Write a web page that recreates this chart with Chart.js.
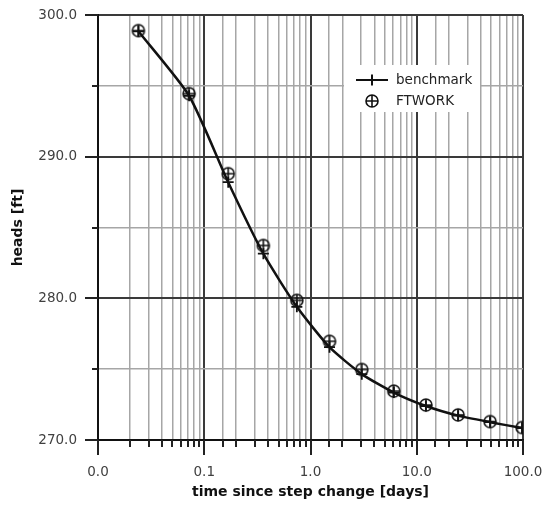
<!DOCTYPE html>
<html>
<head>
<meta charset="utf-8">
<script src="https://cdn.jsdelivr.net/npm/chart.js@4/dist/chart.umd.min.js"></script>
<style>
  html, body { margin: 0; padding: 0; background: #fff; }
  #wrap { width: 544px; height: 506px; }
</style>
</head>
<body>
<div id="wrap"><canvas id="myChart" width="544" height="506"></canvas></div>
<script>
// time since step change [days] and heads [ft]
const timeDays = [0.024, 0.072, 0.168, 0.36, 0.744, 1.51, 3.04, 6.08, 12.2, 24.5, 49, 98];
const benchmarkHeads = [298.85, 294.3, 288.2, 283.15, 279.4, 276.55, 274.65, 273.35, 272.4, 271.72, 271.26, 270.84];
const ftworkHeads = [298.9, 294.45, 288.8, 283.73, 279.86, 276.97, 274.98, 273.45, 272.47, 271.77, 271.3, 270.88];

const X_MIN = 0.01, X_MAX = 100;
const Y_MIN = 270, Y_MAX = 300, Y_STEP = 5;

const FONT = 'DejaVu Sans, Verdana, sans-serif';

const isDecade = v => Math.abs(Math.log10(v) - Math.round(Math.log10(v))) < 1e-6;
const isTen = v => Math.abs(v % 10) < 1e-6;

// circle with a plus inside, used for the FTWORK points
function makeCirclePlus(r) {
  const c = document.createElement('canvas');
  const s = Math.ceil(r * 2 + 4);
  c.width = s; c.height = s;
  const g = c.getContext('2d');
  const m = s / 2;
  g.strokeStyle = '#111';
  g.lineWidth = 1.6;
  g.beginPath();
  g.arc(m, m, r, 0, Math.PI * 2);
  g.moveTo(m - r, m); g.lineTo(m + r, m);
  g.moveTo(m, m - r); g.lineTo(m, m + r);
  g.stroke();
  return c;
}
const circlePlus = makeCirclePlus(6);

const pts = (xs, ys) => xs.map((x, i) => ({ x: x, y: ys[i] }));

// tick marks outside the plot: long at labelled values, short otherwise
const tickMarks = {
  id: 'tickMarks',
  afterDraw(chart) {
    const ctx = chart.ctx;
    const xs = chart.scales.x, ys = chart.scales.y;
    const area = chart.chartArea;
    ctx.save();
    ctx.strokeStyle = '#222';
    ctx.lineWidth = 2;
    ctx.beginPath();
    xs.ticks.forEach(t => {
      const px = Math.round(xs.getPixelForValue(t.value));
      const len = isDecade(t.value) ? 15 : 7;
      ctx.moveTo(px, area.bottom);
      ctx.lineTo(px, area.bottom + len);
    });
    ys.ticks.forEach(t => {
      const py = Math.round(ys.getPixelForValue(t.value));
      const len = isTen(t.value) ? 13 : 6;
      ctx.moveTo(area.left, py);
      ctx.lineTo(area.left - len, py);
    });
    ctx.stroke();
    ctx.restore();
  }
};

// legend box inside the plot
const boxLegend = {
  id: 'boxLegend',
  afterDatasetsDraw(chart) {
    const ctx = chart.ctx;
    const bx = 344, by = 65, bw = 136, bh = 47;
    ctx.save();
    ctx.fillStyle = '#fff';
    ctx.fillRect(bx, by, bw, bh);
    ctx.strokeStyle = '#111';
    ctx.lineWidth = 2;
    ctx.beginPath();
    ctx.moveTo(356, 80); ctx.lineTo(388, 80);
    ctx.moveTo(372, 74.5); ctx.lineTo(372, 85.5);
    ctx.stroke();
    ctx.drawImage(circlePlus, 372 - circlePlus.width / 2, 101 - circlePlus.height / 2);
    ctx.fillStyle = '#222';
    ctx.font = '13.5px ' + FONT;
    ctx.textBaseline = 'middle';
    ctx.textAlign = 'left';
    ctx.fillText(chart.data.datasets[0].label, 396, 80);
    ctx.fillText(chart.data.datasets[1].label, 396, 101);
    ctx.restore();
  }
};

const ctx = document.getElementById('myChart').getContext('2d');

const myChart = new Chart(ctx, {
  type: 'line',
  data: {
    datasets: [{
      label: 'benchmark',
      data: pts(timeDays, benchmarkHeads),
      borderColor: '#111',
      backgroundColor: '#111',
      borderWidth: 2.5,
      pointStyle: 'cross',
      pointRadius: 5.5,
      pointBorderWidth: 1.8,
      tension: 0.2,
      order: 2
    }, {
      label: 'FTWORK',
      data: pts(timeDays, ftworkHeads),
      showLine: false,
      pointStyle: circlePlus,
      pointRadius: 6,
      order: 1
    }]
  },
  options: {
    responsive: false,
    animation: false,
    events: [],
    layout: { padding: { top: 15, right: 21, left: 0, bottom: 0 } },
    plugins: {
      legend: { display: false },
      tooltip: { enabled: false }
    },
    scales: {
      x: {
        type: 'logarithmic',
        min: X_MIN,
        max: X_MAX,
        afterFit(scale) {
          scale.height = 66;
          scale.paddingLeft = 0; scale.paddingRight = 0;
        },
        border: { color: '#111', width: 2 },
        grid: {
          drawTicks: false,
          lineWidth: ctx => isDecade(ctx.tick.value) ? 2 : 1.5,
          color: ctx => isDecade(ctx.tick.value) ? '#3a3a3a' : '#a6a6a6'
        },
        ticks: {
          autoSkip: false,
          maxRotation: 0,
          padding: 24,
          color: '#404040',
          font: { family: FONT, size: 13.5 },
          callback: v => isDecade(v) ? Number(v).toFixed(1) : ''
        },
        title: {
          display: true,
          text: 'time since step change [days]',
          color: '#111',
          font: { family: FONT, size: 14, weight: 'bold' },
          padding: 5
        }
      },
      y: {
        min: Y_MIN,
        max: Y_MAX,
        afterFit(scale) {
          scale.width = 98;
          scale.paddingTop = 0; scale.paddingBottom = 0;
        },
        border: { color: '#111', width: 2 },
        grid: {
          drawTicks: false,
          lineWidth: ctx => isTen(ctx.tick.value) ? 2 : 1.5,
          color: ctx => isTen(ctx.tick.value) ? '#3a3a3a' : '#a6a6a6'
        },
        ticks: {
          stepSize: Y_STEP,
          padding: 21,
          color: '#404040',
          font: { family: FONT, size: 13.5 },
          callback: v => isTen(v) ? v.toFixed(1) : ''
        },
        title: {
          display: true,
          text: 'heads [ft]',
          color: '#111',
          font: { family: FONT, size: 14, weight: 'bold' },
          padding: 10
        }
      }
    }
  },
  plugins: [tickMarks, boxLegend]
});
</script>
</body>
</html>
